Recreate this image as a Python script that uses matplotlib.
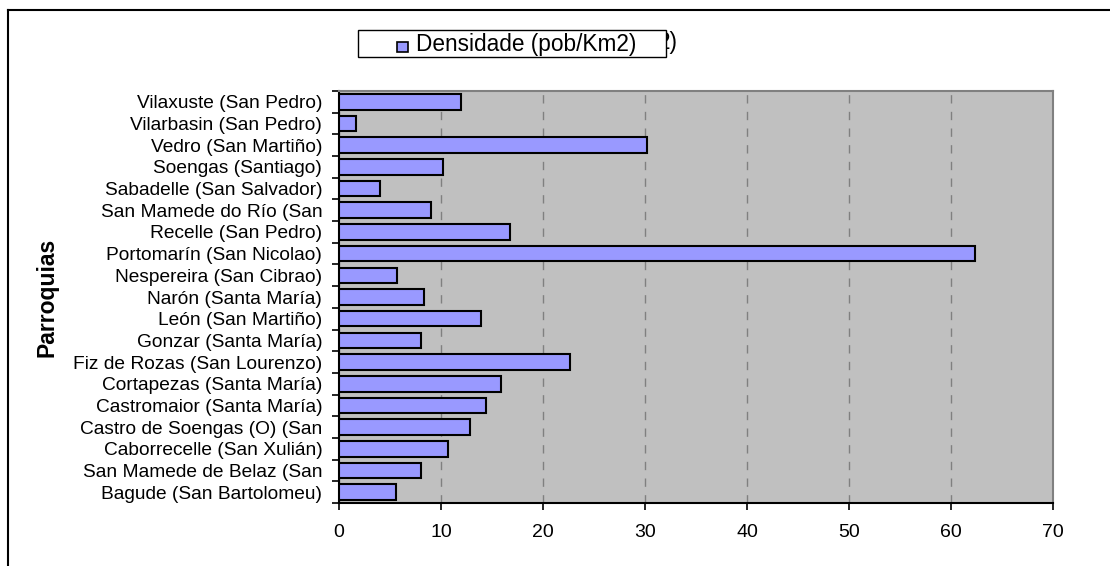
import matplotlib
matplotlib.use("Agg")
import matplotlib.pyplot as plt
from matplotlib.patches import Rectangle
from matplotlib.lines import Line2D
import numpy as np

plt.rcParams['font.family'] = ['Liberation Sans', 'DejaVu Sans']

categories = [
    "Bagude (San Bartolomeu)",
    "San Mamede de Belaz (San",
    "Caborrecelle (San Xulián)",
    "Castro de Soengas (O) (San",
    "Castromaior (Santa María)",
    "Cortapezas (Santa María)",
    "Fiz de Rozas (San Lourenzo)",
    "Gonzar (Santa María)",
    "León (San Martiño)",
    "Narón (Santa María)",
    "Nespereira (San Cibrao)",
    "Portomarín (San Nicolao)",
    "Recelle (San Pedro)",
    "San Mamede do Río (San",
    "Sabadelle (San Salvador)",
    "Soengas (Santiago)",
    "Vedro (San Martiño)",
    "Vilarbasin (San Pedro)",
    "Vilaxuste (San Pedro)",
]
densidade = [5.6, 8.0, 10.7, 12.8, 14.4, 15.9, 22.6, 8.0, 13.9, 8.3,
             5.7, 62.4, 16.8, 9.0, 4.0, 10.2, 30.2, 1.7, 12.0]
x_ticks = [0, 10, 20, 30, 40, 50, 60, 70]
series_name = "Densidade (pob/Km2)"
title_visible_tail = "2)"
y_label = "Parroquias"

W, H = 1110, 566
fig = plt.figure(figsize=(W / 100, H / 100), dpi=100)

# outer chart frame (cut off at right and bottom)
fig.add_artist(Line2D([8 / W, 8 / W], [0, 1 - 10 / H], transform=fig.transFigure,
                      color='black', lw=1.5))
fig.add_artist(Line2D([8 / W, 1], [1 - 10 / H, 1 - 10 / H], transform=fig.transFigure,
                      color='black', lw=1.5))

ax = fig.add_axes([339 / W, 1 - 503 / H, (1053 - 339) / W, (503 - 91) / H])
ax.set_facecolor('#C0C0C0')

y = np.arange(len(categories))
ax.barh(y, densidade, height=0.72, color='#9999FF', edgecolor='black', linewidth=1.5, zorder=3)

ax.set_xlim(0, 70)
ax.set_ylim(-0.5, len(categories) - 0.5)
ax.set_xticks(x_ticks)
ax.set_xticklabels([str(v) for v in x_ticks], fontsize=14)
ax.set_yticks(y)
ax.set_yticklabels(categories, fontsize=13.8)
ax.set_yticks(np.arange(-0.5, len(categories), 1.0), minor=True)
ax.tick_params(axis='y', which='major', length=0, pad=12)
ax.tick_params(axis='y', which='minor', length=5, width=1.2, direction='out')
ax.tick_params(axis='x', which='major', length=5, width=1.2, direction='out', pad=10)

ax.grid(axis='x', linestyle=(0, (6, 6)), color='#808080', linewidth=1, zorder=1)
ax.grid(axis='y', visible=False)

for s in ['top', 'right']:
    ax.spines[s].set_color('#808080')
    ax.spines[s].set_linewidth(1.5)
for s in ['left', 'bottom']:
    ax.spines[s].set_color('black')
    ax.spines[s].set_linewidth(1.5)

fig.text(47 / W, 1 - 297 / H, y_label, rotation=90, fontsize=16.5, fontweight='bold',
         ha='center', va='center')

# visible tail of the chart title, the rest hidden behind the legend
fig.text(678 / W, 1 - 42 / H, title_visible_tail, fontsize=16.3, ha='right', va='center',
         zorder=1)

# legend box
fig.add_artist(Rectangle((358 / W, 1 - 57 / H), (666 - 358) / W, (57 - 30) / H,
                         transform=fig.transFigure, facecolor='white', edgecolor='black',
                         linewidth=1.0, zorder=5))
fig.add_artist(Rectangle((397 / W, 1 - 52 / H), 11 / W, 10 / H,
                         transform=fig.transFigure, facecolor='#9999FF', edgecolor='black',
                         linewidth=1.2, zorder=6))
fig.text(416 / W, 1 - 44 / H, series_name, fontsize=16.3, ha='left', va='center', zorder=6)

fig.savefig('out.png', dpi=100)
